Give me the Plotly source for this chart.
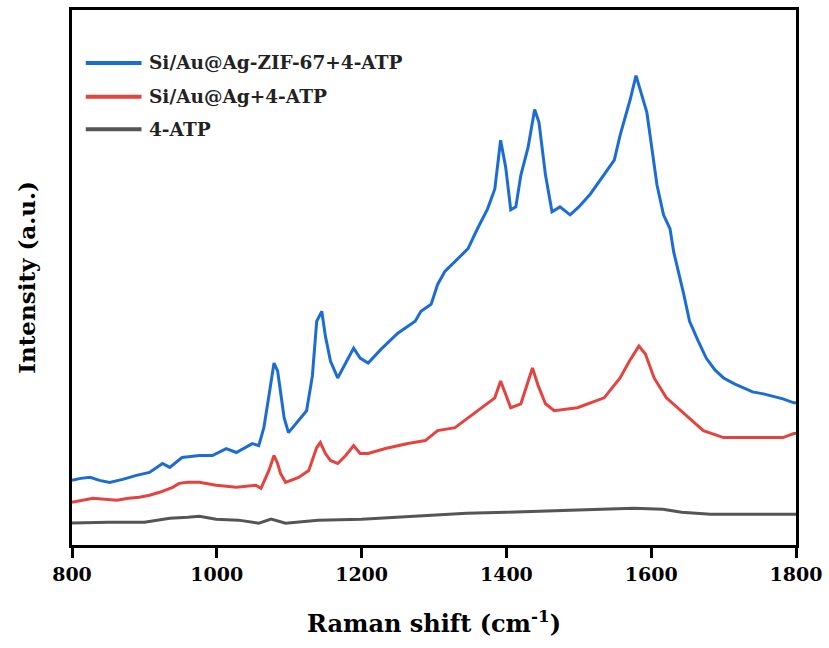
import plotly.graph_objects as go

# Raman shift (cm-1) and intensity (a.u.)
blue_x = [800, 812, 825, 838, 852, 870, 889, 907, 925, 935, 952, 976, 994, 1013, 1027, 1040, 1049, 1058, 1065, 1072,
          1079, 1084, 1088, 1093, 1099, 1113, 1124, 1132, 1138, 1145, 1150, 1157, 1167, 1178, 1189, 1198, 1209, 1227, 1250,
          1274, 1282, 1296, 1305, 1315, 1333, 1347, 1360, 1374, 1384, 1392, 1399, 1406, 1413, 1420, 1430, 1439, 1445,
          1454, 1463, 1474, 1488, 1500, 1516, 1535, 1549, 1557, 1571, 1579, 1586, 1594, 1608, 1617, 1626, 1631, 1645,
          1653, 1665, 1676, 1688, 1700, 1715, 1727, 1740, 1755, 1770, 1782, 1797, 1800]
blue_y = [65, 67, 68, 65, 63, 66, 70, 73, 82, 78, 88, 90, 90, 97, 93, 98, 102, 100, 118, 150,
          183, 175, 155, 128, 113, 125, 135, 170, 225, 235, 210, 185, 168, 183, 198, 188, 183, 197, 213,
          225, 235, 242, 262, 275, 288, 298, 318, 338, 358, 407, 380, 337, 340, 372, 400, 438, 425,
          372, 335, 340, 332, 340, 353, 372, 387, 412, 448, 472, 455, 435, 362, 332, 318, 295, 252,
          225, 205, 188, 176, 168, 162, 158, 154, 152, 149, 147, 143, 143]

red_x = [800, 815, 829, 845, 862, 878, 893, 907, 921, 939, 948, 960, 976, 999, 1027, 1054, 1061, 1072, 1079, 1084, 1088,
         1095, 1113, 1127, 1138, 1143, 1150, 1157, 1167, 1178, 1189, 1198, 1209, 1233, 1264, 1288, 1305, 1329, 1351,
         1374, 1384, 1392, 1399, 1406, 1420, 1429, 1436, 1444, 1454, 1466, 1498, 1535, 1557, 1570, 1583, 1592, 1604,
         1621, 1645, 1672, 1700, 1741, 1782, 1797, 1800]
red_y = [43, 45, 47, 46, 45, 47, 48, 50, 53, 58, 62, 63, 63, 60, 58, 60, 57, 75, 90, 82, 72,
         63, 68, 75, 98, 103, 92, 85, 82, 90, 100, 92, 92, 97, 102, 105, 115, 118, 130,
         142, 148, 165, 152, 138, 142, 162, 178, 160, 142, 135, 138, 148, 168, 185, 200, 192, 168,
         148, 132, 115, 108, 108, 108, 112, 112]

grey_x = [800, 850, 900, 935, 960, 976, 999, 1030, 1058, 1075, 1095, 1140, 1200, 1246, 1300, 1345, 1400, 1444, 1510,
          1576, 1616, 1642, 1682, 1741, 1800]
grey_y = [22, 23, 23, 27, 28, 29, 26, 25, 22, 26, 22, 25, 26, 28, 30, 32, 33, 34, 35, 37, 36, 33, 31, 31, 31]

series_names = ["Si/Au@Ag-ZIF-67+4-ATP", "Si/Au@Ag+4-ATP", "4-ATP"]
series_colors = ["#1b6dd3", "#e5433f", "#555555"]
x_ticks = [800, 1000, 1200, 1400, 1600, 1800]

FONT = "DejaVu Serif"

fig = go.Figure()
for xs, ys, name, col in zip([blue_x, red_x, grey_x], [blue_y, red_y, grey_y], series_names, series_colors):
    fig.add_trace(go.Scatter(x=xs, y=ys, mode="lines", name=name,
                             line=dict(color=col, width=3), showlegend=False))

# manual legend (line samples + labels)
legend_y = [0.901, 0.838, 0.777]
for name, col, ly in zip(series_names, series_colors, legend_y):
    fig.add_shape(type="line", xref="paper", yref="paper", x0=0.019, x1=0.096, y0=ly, y1=ly,
                  line=dict(color=col, width=4))
    fig.add_annotation(xref="paper", yref="paper", x=0.103, y=ly, text="<b>%s</b>" % name,
                       showarrow=False, xanchor="left", yanchor="middle",
                       font=dict(family=FONT, size=18.5, color="#222"))

fig.update_layout(
    width=829, height=648,
    margin=dict(l=72, r=29, t=7, b=103),
    paper_bgcolor="white", plot_bgcolor="white",
    font=dict(family=FONT, color="black"),
)
fig.update_xaxes(
    range=[800, 1800], tickvals=x_ticks, ticktext=["<b>%d</b>" % v for v in x_ticks],
    ticks="outside", ticklen=10, tickwidth=2.5, tickcolor="black",
    showline=True, linecolor="black", linewidth=3, mirror=True, showgrid=False, zeroline=False,
    tickfont=dict(family=FONT, size=19, color="black"),
    title=dict(text="<b>Raman shift (cm<sup>-1</sup>)</b>", font=dict(family=FONT, size=24, color="black"), standoff=32),
)
fig.update_yaxes(
    range=[0, 538], showticklabels=False, ticks="",
    showline=True, linecolor="black", linewidth=3, mirror=True, showgrid=False, zeroline=False,
    title=dict(text="<b>Intensity (a.u.)</b>", font=dict(family=FONT, size=23, color="black"), standoff=27),
)

fig.write_html("out.html")
